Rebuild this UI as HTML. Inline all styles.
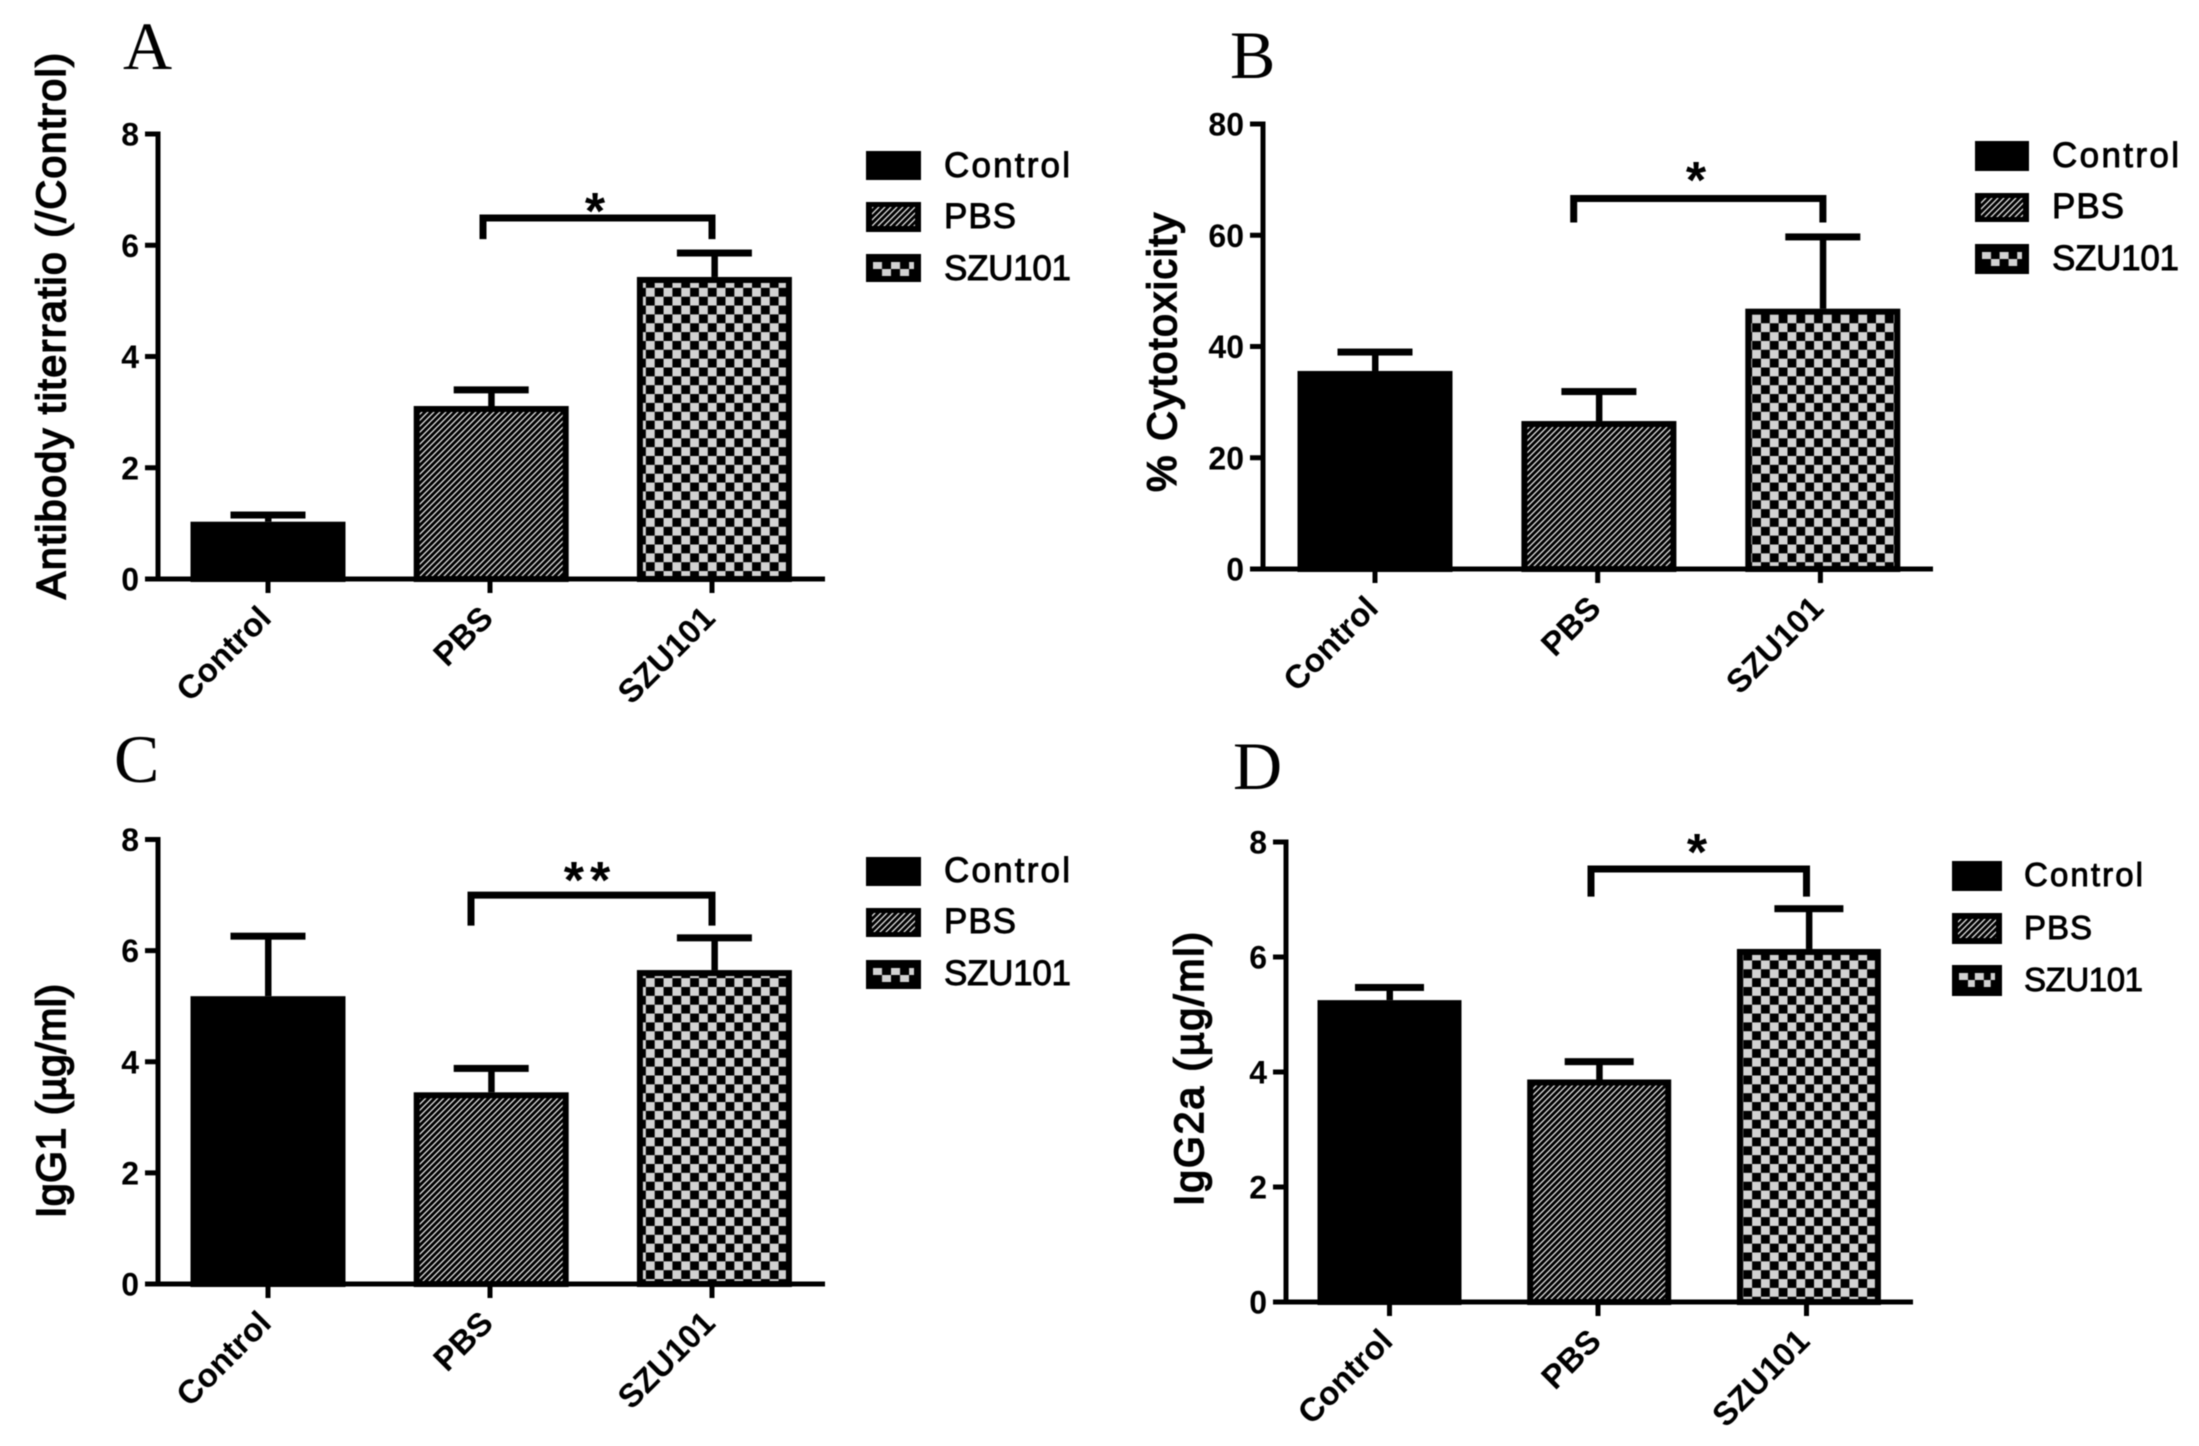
<!DOCTYPE html>
<html lang="en">
<head>
<meta charset="utf-8">
<title>Antibody and cytotoxicity bar charts</title>
<style>
html,body{margin:0;padding:0;background:#fff;}
svg{display:block;filter:blur(0.6px);}
text{font-family:"Liberation Sans",sans-serif;fill:#000;}
.letter{font-family:"Liberation Serif",serif;font-size:68px;}
.ytitle{font-size:41px;font-weight:normal;stroke:#000;stroke-width:1.7px;}
.legend{font-size:35px;font-weight:normal;stroke:#000;stroke-width:0.9px;}
.legend-d{font-size:33px;}
.star{font-size:52px;font-weight:bold;text-anchor:middle;}
.tick{font-size:32px;font-weight:bold;}
.xtick{font-size:33px;font-weight:bold;}
</style>
</head>
<body>
<svg id="fig" xmlns="http://www.w3.org/2000/svg" width="2199" height="1446" viewBox="0 0 2199 1446">
<defs>
  <pattern id="hatch" patternUnits="userSpaceOnUse" width="6" height="6">
    <rect width="6" height="6" fill="#000"/>
    <path d="M-1.5,1.5 L1.5,-1.5 M0,6 L6,0 M4.5,7.5 L7.5,4.5" stroke="#e8e8e8" stroke-width="1.3"/>
  </pattern>
  <pattern id="checkA" patternUnits="userSpaceOnUse" width="17.7" height="17.7" x="637" y="279">
    <rect width="17.7" height="17.7" fill="#000"/>
    <rect x="0" y="0" width="8.85" height="8.85" fill="#d2d2d2"/>
    <rect x="8.85" y="8.85" width="8.85" height="8.85" fill="#d2d2d2"/>
  </pattern>
  <pattern id="checkLegend" patternUnits="objectBoundingBox" width="0.44" height="1">
    <rect width="18" height="14" fill="#000"/>
    <rect x="0" y="0" width="9" height="7" fill="#d2d2d2"/>
    <rect x="9" y="7" width="9" height="7" fill="#d2d2d2"/>
  </pattern>
</defs>
<rect width="2199" height="1446" fill="#fff"/>

<g id="panel-a">
  <text class="letter" x="123" y="69">A</text>
  <text class="ytitle" transform="translate(65,599) rotate(-90)" textLength="546">Antibody titerratio (/Control)</text>
  <g>
    <rect x="866" y="151" width="55" height="29" fill="#000"/>
    <text class="legend" x="944" y="177" textLength="126">Control</text>
    <rect x="866" y="202" width="55" height="30" fill="#000"/>
    <rect x="872" y="207" width="43" height="19" fill="url(#hatch)"/>
    <text class="legend" x="944" y="228" textLength="72">PBS</text>
    <rect x="866" y="254" width="55" height="28" fill="#000"/>
    <rect x="873" y="262" width="41" height="14" fill="url(#checkLegend)"/>
    <text class="legend" x="944" y="280" textLength="127">SZU101</text>
  </g>
  <text class="star" x="595" y="229">*</text>
</g>

<g id="panel-b">
  <text class="letter" x="1230" y="78">B</text>
  <text class="ytitle" transform="translate(1176,492) rotate(-90)" textLength="279">% Cytotoxicity</text>
  <g>
    <rect x="1975" y="141" width="54" height="30" fill="#000"/>
    <text class="legend" x="2052" y="167" textLength="127">Control</text>
    <rect x="1975" y="193" width="54" height="29" fill="#000"/>
    <rect x="1981" y="198" width="42" height="19" fill="url(#hatch)"/>
    <text class="legend" x="2052" y="218" textLength="72">PBS</text>
    <rect x="1975" y="244" width="54" height="30" fill="#000"/>
    <rect x="1982" y="252" width="40" height="14" fill="url(#checkLegend)"/>
    <text class="legend" x="2052" y="270" textLength="127">SZU101</text>
  </g>
  <text class="star" x="1696" y="198">*</text>
</g>

<g id="panel-c">
  <text class="letter" x="114" y="782">C</text>
  <text class="ytitle" transform="translate(65,1218) rotate(-90)" textLength="234">IgG1 (µg/ml)</text>
  <g>
    <rect x="866" y="857" width="55" height="29" fill="#000"/>
    <text class="legend" x="944" y="882" textLength="126">Control</text>
    <rect x="866" y="908" width="55" height="29" fill="#000"/>
    <rect x="872" y="913" width="43" height="19" fill="url(#hatch)"/>
    <text class="legend" x="944" y="933" textLength="72">PBS</text>
    <rect x="866" y="960" width="55" height="29" fill="#000"/>
    <rect x="873" y="968" width="41" height="14" fill="url(#checkLegend)"/>
    <text class="legend" x="944" y="985" textLength="127">SZU101</text>
  </g>
  <text class="star" x="590" y="898" letter-spacing="6">**</text>
</g>

<g id="panel-d">
  <text class="letter" x="1233" y="789">D</text>
  <text class="ytitle" transform="translate(1203,1206) rotate(-90)" textLength="274">IgG2a (µg/ml)</text>
  <g>
    <rect x="1952" y="861" width="50" height="30" fill="#000"/>
    <text class="legend legend-d" x="2024" y="886" textLength="119">Control</text>
    <rect x="1952" y="913" width="50" height="31" fill="#000"/>
    <rect x="1958" y="919" width="38" height="19" fill="url(#hatch)"/>
    <text class="legend legend-d" x="2024" y="939" textLength="68">PBS</text>
    <rect x="1952" y="965" width="50" height="31" fill="#000"/>
    <rect x="1959" y="973" width="36" height="14" fill="url(#checkLegend)"/>
    <text class="legend legend-d" x="2024" y="991" textLength="119">SZU101</text>
  </g>
  <text class="star" x="1697" y="870">*</text>
</g>
</svg>

<script>
const categories = ['Control', 'PBS', 'SZU101'];
const fills = ['#000', 'url(#hatch)', 'url(#checkA)'];

const meansA = [1.03, 3.11, 5.43];
const upperA = [1.15, 3.40, 5.86];
const ticksA = [0, 2, 4, 6, 8];
const bracketA = [6.49, 6.11];

const meansB = [35.6, 26.6, 46.8];
const upperB = [39.0, 31.9, 59.7];
const ticksB = [0, 20, 40, 60, 80];
const bracketB = [66.6, 62.3];

const meansC = [5.18, 3.45, 5.65];
const upperC = [6.26, 3.88, 6.23];
const ticksC = [0, 2, 4, 6, 8];
const bracketC = [7.00, 6.45];

const meansD = [5.25, 3.87, 6.14];
const upperD = [5.47, 4.18, 6.84];
const ticksD = [0, 2, 4, 6, 8];
const bracketD = [7.53, 7.05];

const SVGNS = 'http://www.w3.org/2000/svg';

function mk(tag, attrs, parent) {
  const el = document.createElementNS(SVGNS, tag);
  for (const k in attrs) el.setAttribute(k, attrs[k]);
  parent.appendChild(el);
  return el;
}

function drawPanel(id, means, upper, ticks, bracket, cfg) {
  const g = document.getElementById(id);
  const yMax = ticks[ticks.length - 1];
  const y = v => cfg.base - (v / yMax) * (cfg.base - cfg.top);
  const x = i => cfg.x0 + i * cfg.step;

  means.forEach(function (m, i) {
    const sw = 6;
    const cx = x(i) + i * 1.2;
    const errStem = mk('rect', {x: x(i) - 3 + i * 1.2, y: y(upper[i]), width: 6.5, height: y(m) - y(upper[i]), fill: '#000'}, g);
    
    
    const errCap = mk('rect', {x: cx - cfg.cap / 2, y: y(upper[i]) - 3.5, width: cfg.cap, height: 7, fill: '#000'}, g);
    
    
    const bar = mk('rect', {x: cx - cfg.barW / 2 + sw / 2, y: y(m) + sw / 2, width: cfg.barW - sw, height: cfg.base - y(m) - sw / 2, fill: fills[i], stroke: '#000', 'stroke-width': sw}, g);
    
    
  });

  const yAxis = mk('rect', {x: cfg.axisX - 2.5, y: cfg.top - 2.5, width: 5, height: cfg.base - cfg.top + 5, fill: '#000'}, g);
  
  
  const xAxis = mk('rect', {x: cfg.axisX - 13, y: cfg.base - 2.5, width: cfg.right - cfg.axisX + 13, height: 5, fill: '#000'}, g);
  
  

  ticks.forEach(function (t) {
    const tickMark = mk('rect', {x: cfg.axisX - 13, y: y(t) - 2.5, width: 13, height: 5, fill: '#000'}, g);
    
    
    const tickLabel = mk('text', {class: 'tick', x: cfg.axisX - 19, y: y(t) + 11.5, 'text-anchor': 'end'}, g);
    tickLabel.textContent = String(t);
    
    
  });

  categories.forEach(function (c, i) {
    const tickMark = mk('rect', {x: x(i) - 2.5, y: cfg.base, width: 5, height: 14, fill: '#000'}, g);
    
    
    const lx = x(i) + 5;
    const ly = cfg.base + 41;
    const tickLabel = mk('text', {class: 'xtick', x: lx, y: ly, 'text-anchor': 'end', transform: 'rotate(-45 ' + lx + ' ' + ly + ')'}, g);
    tickLabel.textContent = c;
    
    
  });

  const bx1 = x(1) + cfg.brL;
  const bx2 = x(2) + cfg.brR;
  const br = mk('path', {d: 'M' + bx1 + ',' + y(bracket[1]) + ' V' + y(bracket[0]) + ' H' + bx2 + ' V' + y(bracket[1]), fill: 'none', stroke: '#000', 'stroke-width': 7}, g);
  
  
}

drawPanel('panel-a', meansA, upperA, ticksA, bracketA, {axisX: 158, top: 134, base: 579, right: 825, x0: 268, step: 222, barW: 155, cap: 75, brL: -7, brR: 0});
drawPanel('panel-b', meansB, upperB, ticksB, bracketB, {axisX: 1263, top: 124, base: 569, right: 1933, x0: 1375, step: 222.7, barW: 155, cap: 75, brL: -24, brR: 2.5});
drawPanel('panel-c', meansC, upperC, ticksC, bracketC, {axisX: 158, top: 839.5, base: 1284, right: 825, x0: 268, step: 222, barW: 155, cap: 75, brL: -19, brR: 0});
drawPanel('panel-d', meansD, upperD, ticksD, bracketD, {axisX: 1286, top: 842, base: 1302, right: 1913, x0: 1389.5, step: 208.5, barW: 144, cap: 69, brL: -7, brR: 0});
</script>
</body>
</html>
